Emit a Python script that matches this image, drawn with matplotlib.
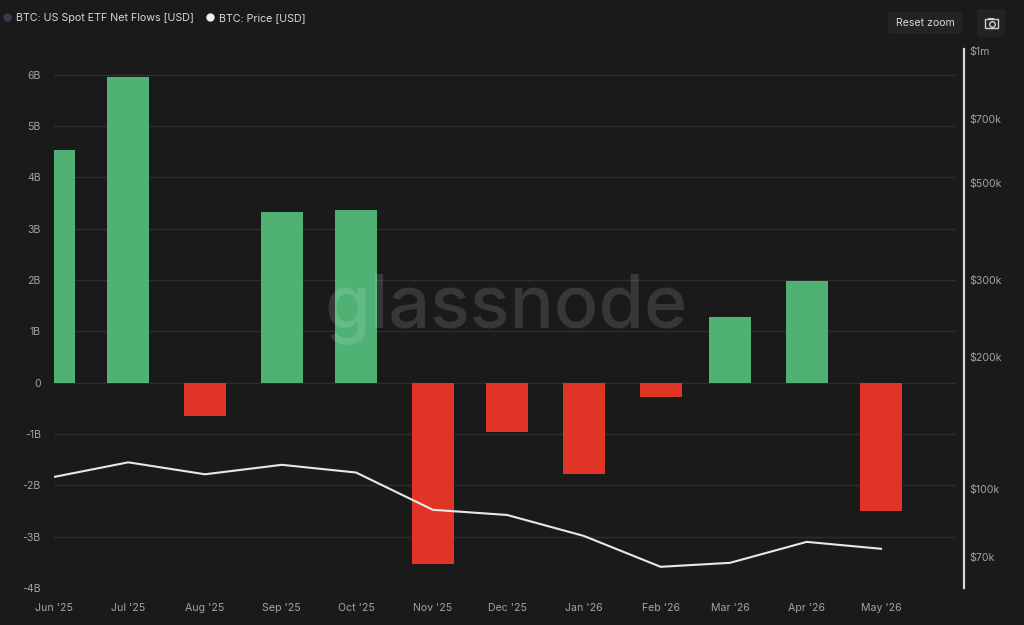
import matplotlib
matplotlib.use('Agg')
import matplotlib.pyplot as plt
import matplotlib.dates as mdates
from matplotlib.lines import Line2D
from matplotlib.patches import FancyBboxPatch, Rectangle
import pandas as pd

plt.rcParams['font.family'] = ['Inter', 'DejaVu Sans']

meses = ['2025-06-01', '2025-07-01', '2025-08-01', '2025-09-01', '2025-10-01', '2025-11-01',
         '2025-12-01', '2026-01-01', '2026-02-01', '2026-03-01', '2026-04-01', '2026-05-01']
etiquetas = ["Jun '25", "Jul '25", "Aug '25", "Sep '25", "Oct '25", "Nov '25",
             "Dec '25", "Jan '26", "Feb '26", "Mar '26", "Apr '26", "May '26"]
flujos = [4.53, 5.95, -0.65, 3.32, 3.37, -3.53, -0.97, -1.77, -0.28, 1.27, 1.98, -2.5]
precio = [106500, 115000, 108000, 113500, 109000, 89600, 87200, 78100, 66400, 67800, 75700, 73000]
ticks_izq = [-4, -3, -2, -1, 0, 1, 2, 3, 4, 5, 6]
labels_izq = ['-4B', '-3B', '-2B', '-1B', '0', '1B', '2B', '3B', '4B', '5B', '6B']
ticks_der = [70000, 100000, 200000, 300000, 500000, 700000, 1000000]
labels_der = ['$70k', '$100k', '$200k', '$300k', '$500k', '$700k', '$1m']

FONDO = '#1a1a1a'
VERDE = '#4fb173'
ROJO = '#e03426'
TEXTO = '#a3a3a3'
W, H = 1024, 625

fechas = pd.to_datetime(meses)

fig = plt.figure(figsize=(W / 100, H / 100), dpi=100, facecolor=FONDO)
ax = fig.add_axes([54 / W, 1 - 588 / H, (956 - 54) / W, (588 - 49) / H], facecolor=FONDO)

# barras de flujos
colores = [VERDE if f >= 0 else ROJO for f in flujos]
ax.bar(fechas, flujos, width=17, color=colores, zorder=3)
ax.set_xlim(fechas[0], fechas[0] + pd.Timedelta(days=364.3))
ax.set_ylim(-4, 6.5)
ax.set_yticks(ticks_izq, labels_izq)
ax.set_xticks(fechas, etiquetas)
ax.xaxis.set_major_locator(plt.FixedLocator(mdates.date2num(fechas)))
ax.grid(axis='y', color='#2e2e2e', lw=1, zorder=1)
ax.tick_params(axis='y', length=0, pad=9.5, labelsize=7.6, labelcolor=TEXTO)
ax.tick_params(axis='x', length=0, pad=11, labelsize=7.6, labelcolor=TEXTO)
for s in ax.spines.values():
    s.set_visible(False)

# precio en eje log a la derecha
ax2 = ax.twinx()
ax2.plot(fechas, precio, color='#e8e8e8', lw=1.5, zorder=5)
ax2.set_yscale('log')
ax2.set_ylim(59400, 1010000)
ax2.set_yticks(ticks_der, labels_der)
ax2.minorticks_off()
ax2.tick_params(axis='y', length=0, pad=3.5, labelsize=7.6, labelcolor=TEXTO)
for nombre, s in ax2.spines.items():
    s.set_visible(nombre == 'right')
ax2.spines['right'].set_position(('outward', 5.8))
ax2.spines['right'].set_color('#d8d8d8')
ax2.spines['right'].set_linewidth(1.6)

# marca de agua
fig.text(506 / W, 1 - 309 / H, 'glassnode', color='white', alpha=0.13, fontsize=53, fontweight='medium',
         ha='center', va='center', zorder=10)

# leyenda
handles = [Line2D([], [], ls='', marker='o', ms=5, color='#3a3b4a'),
           Line2D([], [], ls='', marker='o', ms=5, color='#f0f0f0')]
fig.legend(handles, ['BTC: US Spot ETF Net Flows [USD]', 'BTC: Price [USD]'], ncol=2,
           loc='center left', bbox_to_anchor=(-9 / W, 1 - 18 / H), frameon=False,
           fontsize=7.7, labelcolor='#d8d8d8', handletextpad=0.2, columnspacing=0.95, handlelength=1.2)

# boton y camara
fig.add_artist(FancyBboxPatch((888 / W, 1 - 34 / H), 74 / W, 22 / H, transform=fig.transFigure,
                              boxstyle='round,pad=0,rounding_size=0.004', fc='#232323', ec='none'))
fig.text(925.5 / W, 1 - 23 / H, 'Reset zoom', color='#d8d8d8', fontsize=7.6, ha='center', va='center')
fig.add_artist(FancyBboxPatch((977 / W, 1 - 37 / H), 28 / W, 28 / H, transform=fig.transFigure,
                              boxstyle='round,pad=0,rounding_size=0.004', fc='#232323', ec='none'))
fig.add_artist(Rectangle((985 / W, 1 - 28 / H), 13 / W, 9 / H, transform=fig.transFigure,
                         fc='none', ec='#d0d0d0', lw=1))
fig.add_artist(Rectangle((988 / W, 1 - 19 / H), 6 / W, 1.5 / H, transform=fig.transFigure,
                         fc='#d0d0d0', ec='none'))
fig.add_artist(Line2D([991.5 / W], [1 - 23.5 / H], marker='o', ms=4, mfc='none', mec='#d0d0d0',
                      mew=1, transform=fig.transFigure))

fig.savefig('out.png', dpi=100, facecolor=FONDO)
